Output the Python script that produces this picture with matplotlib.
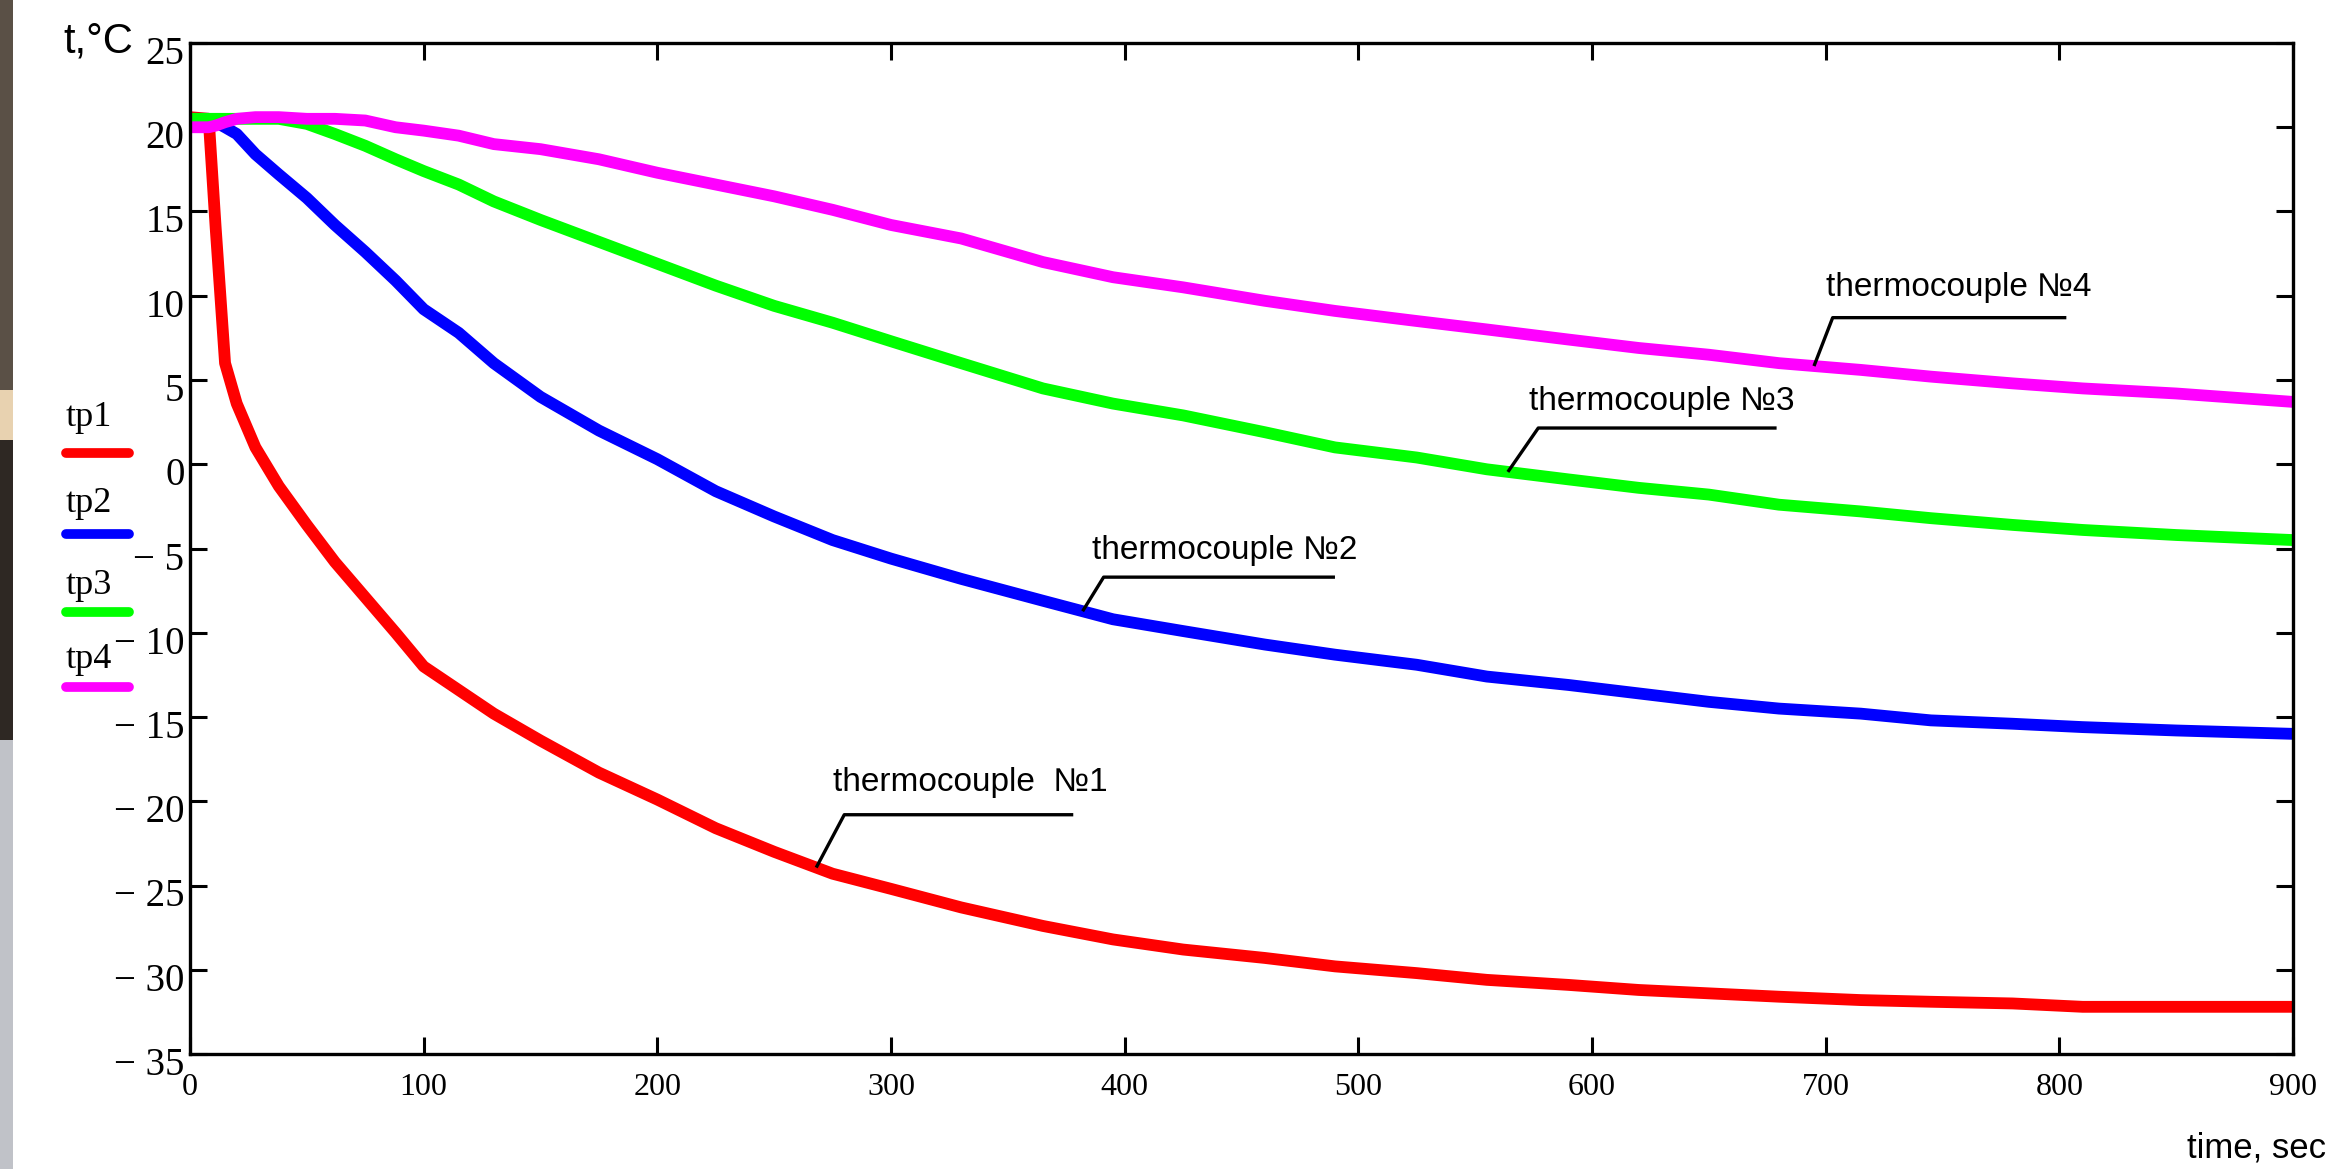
import numpy as np
import matplotlib.pyplot as plt
import matplotlib.transforms as mtransforms
from matplotlib.lines import Line2D
from matplotlib.patches import Rectangle

# thermocouple readings, deg C
time = [0, 8, 11, 15, 20, 28, 38, 50, 62, 75, 88, 100, 115, 130, 150, 175, 200,
        225, 250, 275, 300, 330, 365, 395, 425, 460, 490, 525, 555, 590, 620,
        650, 680, 715, 745, 780, 810, 850, 900]
tp1 = [20.6, 20.5, 14.0, 6.0, 3.6, 1.0, -1.3, -3.6, -5.8, -7.9, -10.0, -12.0,
       -13.4, -14.8, -16.4, -18.3, -19.9, -21.6, -23.0, -24.3, -25.2, -26.3,
       -27.4, -28.2, -28.8, -29.3, -29.8, -30.2, -30.6, -30.9, -31.2, -31.4,
       -31.6, -31.8, -31.9, -32.0, -32.2, -32.2, -32.2]
tp2 = [20.5, 20.5, 20.3, 20.0, 19.6, 18.4, 17.2, 15.8, 14.2, 12.6, 10.9, 9.2,
       7.8, 6.0, 4.0, 2.0, 0.3, -1.6, -3.1, -4.5, -5.6, -6.8, -8.1, -9.2, -9.9,
       -10.7, -11.3, -11.9, -12.6, -13.1, -13.6, -14.1, -14.5, -14.8, -15.2,
       -15.4, -15.6, -15.8, -16.0]
tp3 = [20.5, 20.5, 20.5, 20.5, 20.5, 20.5, 20.5, 20.2, 19.6, 18.9, 18.1, 17.4,
       16.6, 15.6, 14.5, 13.2, 11.9, 10.6, 9.4, 8.4, 7.3, 6.0, 4.5, 3.6, 2.9,
       1.9, 1.0, 0.4, -0.3, -0.9, -1.4, -1.8, -2.4, -2.8, -3.2, -3.6, -3.9,
       -4.2, -4.5]
tp4 = [20.0, 20.0, 20.1, 20.3, 20.5, 20.6, 20.6, 20.5, 20.5, 20.4, 20.0, 19.8,
       19.5, 19.0, 18.7, 18.1, 17.3, 16.6, 15.9, 15.1, 14.2, 13.4, 12.0, 11.1,
       10.5, 9.7, 9.1, 8.5, 8.0, 7.4, 6.9, 6.5, 6.0, 5.6, 5.2, 4.8, 4.5, 4.2,
       3.7]

names = ["tp1", "tp2", "tp3", "tp4"]
colors = ["#ff0000", "#0000ff", "#00ff00", "#ff00ff"]
series = [tp1, tp2, tp3, tp4]

x_ticks = list(range(0, 901, 100))
y_ticks = list(range(-35, 26, 5))
y_labels = [("\u2212 %d" % -v) if v < 0 else str(v) for v in y_ticks]

# callouts: text, time where leader touches the curve, elbow, end of underline
notes = ["thermocouple  \u21161", "thermocouple \u21162",
         "thermocouple \u21163", "thermocouple \u21164"]
note_t = [268, 382, 564, 695]
note_elbow = [(280, -20.8), (391, -6.7), (577, 2.15), (703, 8.7)]
note_end = [378, 490, 679, 803]
note_text = [(275, -19.4), (386, -5.6), (573, 3.2), (700, 10.0)]

serif = ["Liberation Serif", "DejaVu Serif"]
sans = ["Liberation Sans", "DejaVu Sans"]

fig = plt.figure(figsize=(23.3, 11.69), dpi=100)
ax = fig.add_axes([190 / 2330, 1 - 1054 / 1169, (2293 - 190) / 2330, (1054 - 43) / 1169])

for y, name, c in zip(series, names, colors):
    ax.plot(time, y, color=c, lw=8.5, solid_joinstyle="round", label=name)

ax.set_xlim(0, 900)
ax.set_ylim(-35, 25)
ax.set_xticks(x_ticks)
ax.set_xticklabels([str(v) for v in x_ticks], fontfamily=serif, fontsize=23)
ax.set_yticks(y_ticks)
ax.set_yticklabels(y_labels, fontfamily=serif, fontsize=28)
ax.tick_params(direction="in", length=12, width=2.2, top=True, right=True,
               colors="black")
ax.tick_params(axis="x", pad=14)
ax.tick_params(axis="y", pad=4)
for s in ax.spines.values():
    s.set_linewidth(2.4)
# y labels sit a little below their ticks in the original
shift = mtransforms.ScaledTranslation(0, -7 / 100, fig.dpi_scale_trans)
for lab in ax.get_yticklabels():
    lab.set_transform(lab.get_transform() + shift)

# callouts
for txt, tt, (ex, ey), xe, (tx, ty), y in zip(notes, note_t, note_elbow,
                                               note_end, note_text, series):
    yy = np.interp(tt, time, y)
    ax.plot([tt, ex, xe], [yy, ey, ey], color="black", lw=2.4,
            solid_capstyle="butt")
    ax.text(tx, ty, txt, fontfamily=sans, fontsize=24, ha="left",
            va="baseline")

# legend on the left, label above a short line
leg_text_y = [418, 503, 586, 659]
leg_line_y = [453, 534, 612, 687]
for name, c, ty, ly in zip(names, colors, leg_text_y, leg_line_y):
    fig.text(89 / 2330, 1 - ty / 1169, name, fontfamily=serif, fontsize=26,
             ha="center", va="center")
    fig.add_artist(Line2D([66 / 2330, 129 / 2330], [1 - ly / 1169, 1 - ly / 1169],
                          color=c, lw=7, solid_capstyle="round"))

fig.text(63 / 2330, 1 - 53 / 1169, "t,\u00b0C", fontfamily=sans, fontsize=30,
         ha="left", va="baseline")
fig.text(2326 / 2330, 1 - 1158 / 1169, "time, sec", fontfamily=sans,
         fontsize=25, ha="right", va="baseline")

# strip of the photo at the left edge
strip = [(0, 390, "#5a5046"), (390, 440, "#e8d2b0"), (440, 740, "#2e2823"),
         (740, 1169, "#c0c2c8")]
for y0, y1, c in strip:
    fig.add_artist(Rectangle((0, 1 - y1 / 1169), 13 / 2330, (y1 - y0) / 1169,
                             transform=fig.transFigure, color=c, lw=0))

fig.savefig("out.png", dpi=100)
